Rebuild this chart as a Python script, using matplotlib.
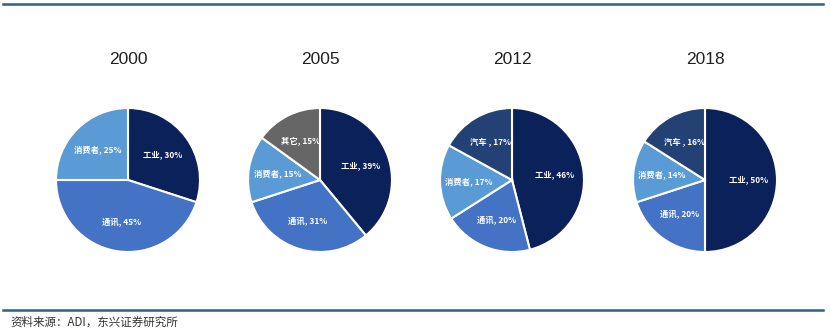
import matplotlib
matplotlib.use('Agg')
import matplotlib.pyplot as plt
from matplotlib.lines import Line2D

plt.rcParams['font.family'] = ['Noto Sans CJK SC', 'DejaVu Sans']

years = ['2000', '2005', '2012', '2018']
labels_2000 = ['工业', '通讯', '消费者']
share_2000 = [30, 45, 25]
labels_2005 = ['工业', '通讯', '消费者', '其它']
share_2005 = [39, 31, 15, 15]
labels_2012 = ['工业', '通讯', '消费者', '汽车 ']
share_2012 = [46, 20, 17, 17]
labels_2018 = ['工业', '通讯', '消费者', '汽车 ']
share_2018 = [50, 20, 14, 16]

colors = {'工业': '#0b2159', '通讯': '#4472c4', '消费者': '#5b9bd5',
          '其它': '#666666', '汽车 ': '#234175'}

all_labels = [labels_2000, labels_2005, labels_2012, labels_2018]
all_share = [share_2000, share_2005, share_2012, share_2018]

fig = plt.figure(figsize=(8.3, 3.35), dpi=100)

centers = [128, 320, 512, 705]
radius = 72
for k in range(4):
    cx = centers[k]
    ax = fig.add_axes([(cx - radius) / 830, (335 - 252) / 335,
                       2 * radius / 830, 2 * radius / 335])
    labs = all_labels[k]
    vals = all_share[k]
    names = iter(['%s, %d%%' % (l, v) for l, v in zip(labs, vals)])

    ax.pie(vals, colors=[colors[l] for l in labs], startangle=90,
           counterclock=False, autopct=lambda p: next(names), pctdistance=0.6,
           wedgeprops=dict(edgecolor='white', linewidth=1.5),
           textprops=dict(color='white', fontsize=6, fontweight='bold'))
    ax.set_xlim(-1, 1)
    ax.set_ylim(-1, 1)
    ax.set_aspect('equal')
    fig.text(cx / 830, 1 - 60 / 335, years[k], ha='center', va='center',
             fontsize=12.5, family=['Liberation Sans', 'DejaVu Sans'], color='#222222')

# rules at top and bottom
fig.add_artist(Line2D([3 / 830, 823 / 830], [1 - 4 / 335] * 2, color='#2e5f8f', lw=1.8))
fig.add_artist(Line2D([3 / 830, 823 / 830], [1 - 310 / 335] * 2, color='#2e5f8f', lw=1.8))

fig.text(10 / 830, 1 - 322 / 335, '资料来源：ADI，东兴证券研究所', ha='left', va='center',
         fontsize=8.3, color='#333333')

fig.savefig('out.png', dpi=100)
